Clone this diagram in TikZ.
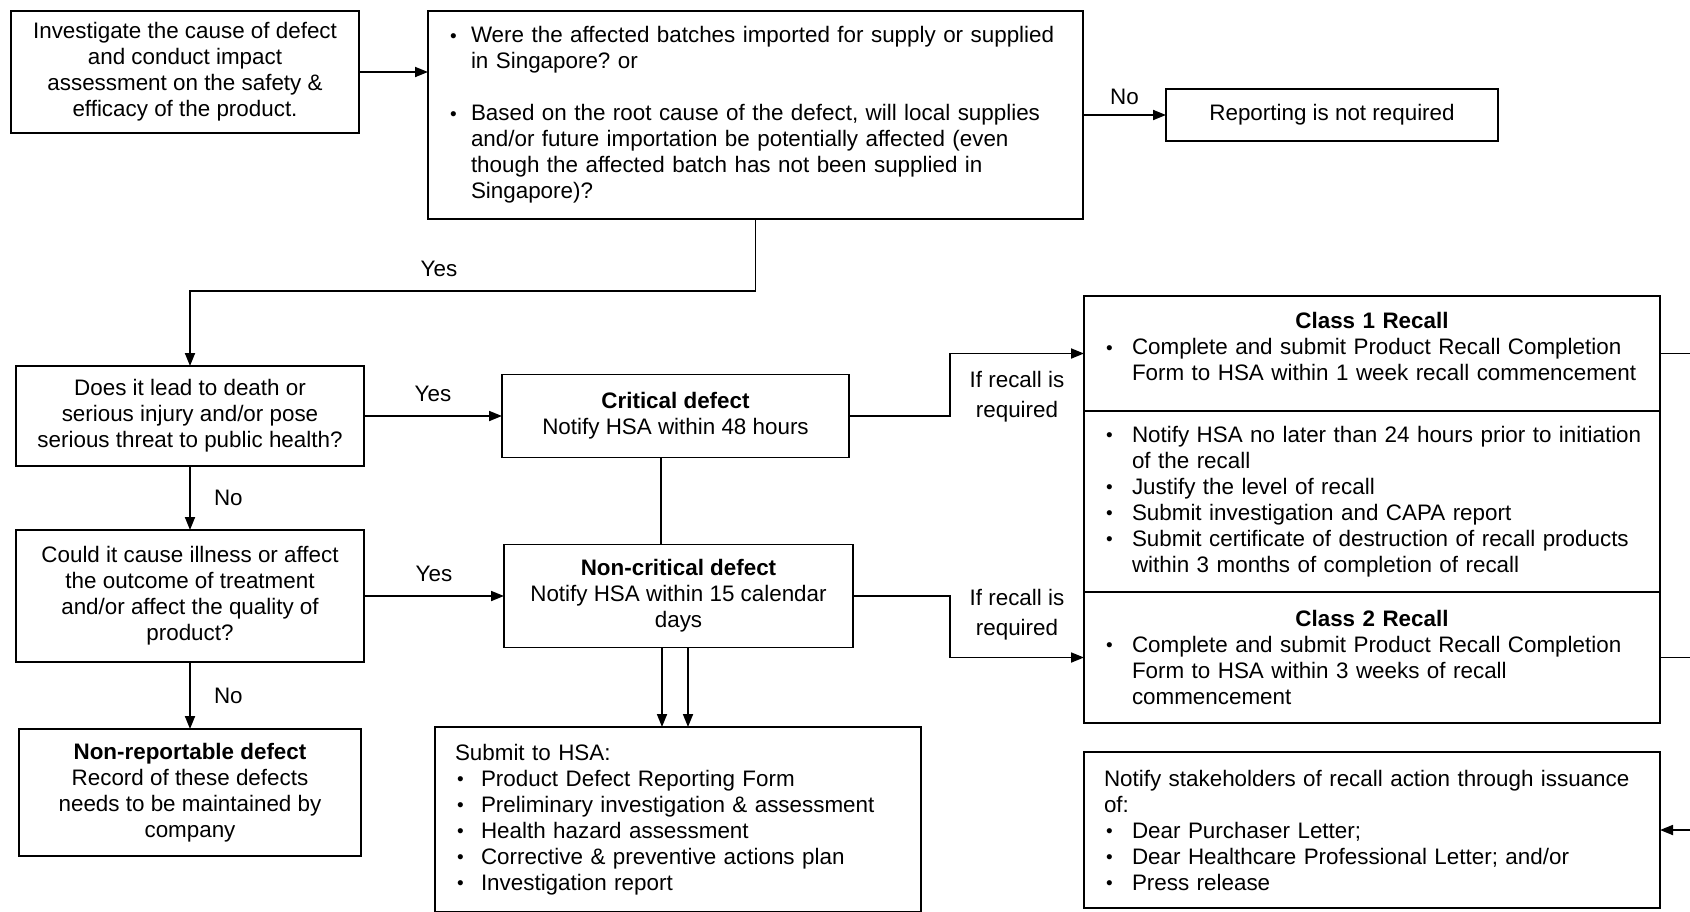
\documentclass[tikz,border=0pt]{standalone}
\usepackage{fontspec}
\setmainfont{Liberation Sans}
\usetikzlibrary{arrows.meta,positioning}
\newcommand{\bul}[1][14pt]{\hspace*{5pt}\makebox[#1][l]{\hspace{1pt}\raisebox{0.3pt}{\fontsize{9.5}{9.5}\selectfont\textbullet}}}
\newcommand{\cont}[1][14pt]{\hspace*{\dimexpr#1+5pt\relax}}
\newcommand{\lead}{\hspace*{5pt}}
\begin{document}
\begin{tikzpicture}[x=0.5pt,y=-0.5pt,inner sep=0pt,outer sep=0pt,line width=0.9pt,
font=\fontsize{11.2}{13}\selectfont,
box/.style={draw,rectangle,align=center,line width=0.9pt},
listbox/.style={box,align=left,inner xsep=5pt,text width=#1},
lbl/.style={align=center,font=\fontsize{11.2}{15}\selectfont},
arr/.style={-{Triangle[length=6.5pt,width=5pt]}}]
\useasboundingbox (0,0) rectangle (1690,911);
% left column
\node[box,minimum width=174pt,minimum height=61pt] (invest) at (185,72) {Investigate the cause of defect\\and conduct impact\\assessment on the safety \&\\efficacy of the product.};
\node[listbox=317.5pt,minimum height=104pt] (batch) at (755.5,115) {\bul[11.5pt]Were the affected batches imported for supply or supplied\\\cont[11.5pt]in Singapore?\ or\\[13pt]\bul[11.5pt]Based on the root cause of the defect, will local supplies\\\cont[11.5pt]and/or future importation be potentially affected (even\\\cont[11.5pt]though the affected batch has not been supplied in\\\cont[11.5pt]Singapore)?};
\node[box,minimum width=166pt,minimum height=26pt] (noreport) at (1332,115) {Reporting is not required};
\node[box,minimum width=174pt,minimum height=50pt] (death) at (190,416) {Does it lead to death or\\serious injury and/or pose\\serious threat to public health?};
\node[box,minimum width=174pt,minimum height=66pt] (illness) at (190,596) {Could it cause illness or affect\\the outcome of treatment\\and/or affect the quality of\\product?};
\node[box,minimum width=171pt,minimum height=63.5pt] (nonrep) at (190,792.5) {\textbf{Non-reportable defect}\\Record of these defects\\needs to be maintained by\\company};
% middle column
\node[box,minimum width=173.5pt,minimum height=41.5pt] (crit) at (675.5,416) {\textbf{Critical defect}\\Notify HSA within 48 hours};
\node[box,minimum width=174.5pt,minimum height=51.5pt] (noncrit) at (678.5,596) {\textbf{Non-critical defect}\\Notify HSA within 15 calendar\\days};
\node[listbox=233pt,minimum height=92.5pt] (submit) at (678,819.5) {\lead Submit to HSA:\\\bul[13pt]Product Defect Reporting Form\\\bul[13pt]Preliminary investigation \& assessment\\\bul[13pt]Health hazard assessment\\\bul[13pt]Corrective \& preventive actions plan\\\bul[13pt]Investigation report};
% recall column
\node[listbox=278pt,minimum height=57.5pt] (class1) at (1372,353.5) {\makebox[\linewidth]{\textbf{Class 1 Recall}}\\\bul Complete and submit Product Recall Completion\\\cont Form to HSA within 1 week recall commencement\rule[-7pt]{0pt}{0pt}};
\node[listbox=278pt,minimum height=90.5pt,below=0pt of class1] (steps) {\bul Notify HSA no later than 24 hours prior to initiation\\\cont of the recall\\\bul Justify the level of recall\\\bul Submit investigation and CAPA report\\\bul Submit certificate of destruction of recall products\\\cont within 3 months of completion of recall};
\node[listbox=278pt,minimum height=65.5pt,below=0pt of steps] (class2) {\makebox[\linewidth]{\textbf{Class 2 Recall}}\\\bul Complete and submit Product Recall Completion\\\cont Form to HSA within 3 weeks of recall\\\cont commencement};
\node[listbox=278pt,minimum height=78pt] (notify) at (1372,830) {\lead Notify stakeholders of recall action through issuance\\\lead of:\\\bul Dear Purchaser Letter;\\\bul Dear Healthcare Professional Letter; and/or\\\bul Press release};
% connectors
\draw[arr] (invest.east) -- (invest.east -| batch.west);
\draw[arr] (batch.east) -- node[lbl,above=5pt] (nolbl1) {No} (noreport.west);
\draw[arr] (batch.south) -- ++(0,72) coordinate (yesbend) -| (death.north);
\node[lbl] (yeslbl1) at (439,269) {Yes};
\draw[arr] (death.east) -- node[lbl,above=7pt] (yeslbl2) {Yes} (crit.west);
\draw[arr] (death.south) -- node[lbl,right=12pt] (nolbl2) {No} (illness.north);
\draw[arr] (illness.east) -- node[lbl,above=7pt] (yeslbl3) {Yes} (noncrit.west);
\draw[arr] (illness.south) -- node[lbl,right=12pt] (nolbl3) {No} (nonrep.north);
\draw ([xshift=-7.25pt]crit.south) -- ([xshift=-7.25pt]crit.south |- noncrit.north);
\draw[arr] ([xshift=-8.25pt]noncrit.south) -- ([xshift=-8.25pt]noncrit.south |- submit.north);
\draw[arr] ([xshift=4.75pt]noncrit.south) -- ([xshift=4.75pt]noncrit.south |- submit.north);
\draw[arr] (crit.east) -- ++(101,0) coordinate (bend1) |- (class1.west);
\node[lbl] (recall1) at (1017,397) {If recall is\\required};
\draw[arr] (noncrit.east) -- ++(97,0) coordinate (bend2) |- (class2.west);
\node[lbl] (recall2) at (1017,615) {If recall is\\required};
\coordinate (rim) at (1690,0);
\draw (class1.east) -- (class1.east -| rim);
\draw (class2.east) -- (class2.east -| rim);
\draw[arr] (notify.east -| rim) -- (notify.east);
\end{tikzpicture}
\end{document}
